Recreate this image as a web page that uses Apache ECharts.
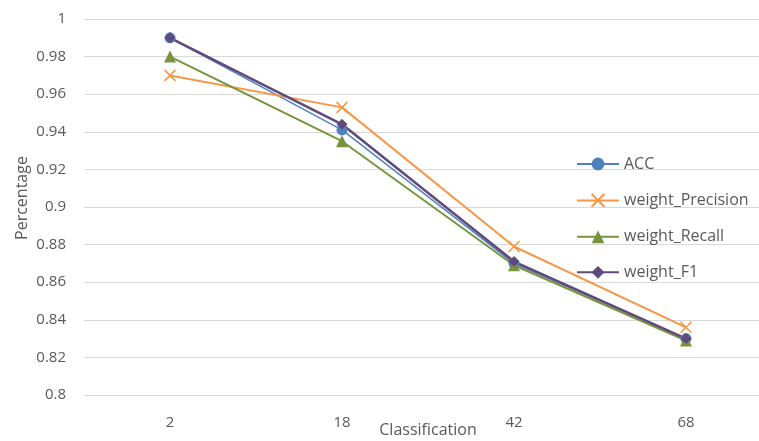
<!DOCTYPE html>
<html>
<head>
<meta charset="utf-8">
<script src="https://cdn.jsdelivr.net/npm/echarts@6/dist/echarts.min.js"></script>
<style>
  html, body { margin: 0; padding: 0; background: #fff; }
  #chart { width: 759px; height: 441px; }
</style>
</head>
<body>
<div id="chart"></div>
<script>
const categories = ['2', '18', '42', '68'];
const accValues = [0.990, 0.941, 0.870, 0.830];
const precisionValues = [0.970, 0.953, 0.879, 0.836];
const recallValues = [0.980, 0.935, 0.869, 0.829];
const f1Values = [0.990, 0.944, 0.871, 0.830];
const yTicks = [0.8, 0.82, 0.84, 0.86, 0.88, 0.9, 0.92, 0.94, 0.96, 0.98, 1];

const textColor = '#595959';
const font = 'Open Sans';

const chart = echarts.init(document.getElementById('chart'));

// one helper per series so the styles stay in one place
const makeSeries = (name, data, color, symbol, size, lineWidth) => ({
  name,
  type: 'line',
  data,
  symbol,
  symbolSize: size,
  showSymbol: true,
  lineStyle: { color, width: lineWidth },
  itemStyle: { color, borderWidth: 0 },
  emphasis: { disabled: true }
});

const option = {
  animation: false,
  textStyle: { fontFamily: font },
  // plot runs a bit past the right edge, like the original
  grid: { left: 84, right: -13, top: 19, bottom: 46, outerBoundsMode: 'none' },
  legend: {
    orient: 'vertical',
    left: 571,
    top: 151,
    itemGap: 19.5,
    itemWidth: 42,
    itemHeight: 16,
    textStyle: { color: textColor, fontSize: 16, fontFamily: font },
    data: ['ACC', 'weight_Precision', 'weight_Recall', 'weight_F1']
  },
  xAxis: {
    type: 'category',
    data: categories,
    boundaryGap: true,
    name: 'Classification',
    nameLocation: 'middle',
    nameGap: 27,
    nameMoveOverlap: false,
    nameTextStyle: { color: textColor, fontSize: 16, fontFamily: font },
    axisLine: { show: false },
    axisTick: { show: false },
    axisLabel: { color: textColor, fontSize: 15, margin: 20 },
    splitLine: { show: false }
  },
  yAxis: {
    type: 'value',
    min: yTicks[0],
    max: yTicks[yTicks.length - 1],
    interval: 0.02,
    name: 'Percentage',
    nameLocation: 'middle',
    nameGap: 54,
    nameMoveOverlap: false,
    nameTextStyle: { color: textColor, fontSize: 16, fontFamily: font, padding: [0, 0, 0, 18] },
    axisLine: { show: false },
    axisTick: { show: false },
    axisLabel: {
      color: textColor,
      fontSize: 15,
      margin: 18,
      formatter: v => String(parseFloat(v.toFixed(2)))
    },
    splitLine: { lineStyle: { color: '#d9d9d9', width: 1 } }
  },
  series: [
    makeSeries('ACC', accValues, '#4F81BD', 'circle', 11, 1.5),
    makeSeries('weight_Precision', precisionValues, '#F79646', 'path://M0,0L10,10M10,0L0,10', 11, 2),
    makeSeries('weight_Recall', recallValues, '#77933C', 'triangle', 12, 2),
    makeSeries('weight_F1', f1Values, '#604A7B', 'diamond', 11, 2.5)
  ]
};

// the cross symbol is a stroke-only path, give it a border so it shows
option.series[1].itemStyle = { color: 'none', borderColor: '#F79646', borderWidth: 1.5 };

chart.setOption(option);
</script>
</body>
</html>
